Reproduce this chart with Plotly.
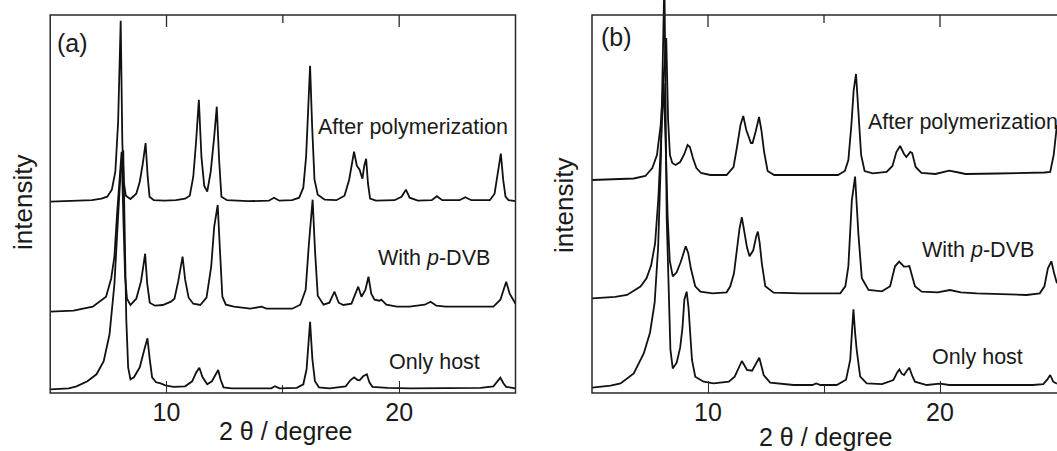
import plotly.graph_objects as go

# ---------------- data (2theta in degrees, intensity in arbitrary units above each baseline) -------------
a_after_theta = [5.0, 6.0, 6.8, 7.2, 7.45, 7.65, 7.8, 7.92, 8.03, 8.1, 8.16, 8.25, 8.45, 8.7, 8.85, 8.98, 9.1,
                 9.19, 9.27, 9.45, 9.9, 10.4, 10.8, 11.0, 11.15, 11.27, 11.39, 11.5, 11.62, 11.75, 11.9, 12.05,
                 12.16, 12.26, 12.36, 12.6, 13.5, 14.4, 14.62, 14.85, 15.4, 15.7, 15.88, 16.0, 16.1, 16.17, 16.26,
                 16.36, 16.5, 16.8, 17.3, 17.65, 17.85, 17.98, 18.06, 18.18, 18.3, 18.42, 18.5, 18.58, 18.66,
                 18.75, 19.0, 19.8, 20.1, 20.29, 20.45, 20.8, 21.4, 21.62, 21.85, 22.6, 22.84, 23.1, 23.9, 24.1,
                 24.25, 24.37, 24.47, 24.57, 24.7, 25.0]
a_after_counts = [0, 0.5, 1.5, 3, 5, 12, 30, 80, 181, 60, 20, 6, 2.7, 8, 20, 38, 58.7,
                  25, 5, 1.5, 1, 1.5, 3, 6, 25, 60, 102, 45, 16, 10, 30, 65,
                  95, 42, 5, 1.5, 0.5, 1, 4, 1, 1.5, 4, 14, 45, 100, 136, 75,
                  22, 7, 2, 1.5, 6, 22, 42, 50, 36, 32, 23, 36, 43, 18,
                  3, 1, 1.5, 5, 12, 4, 1, 1.5, 5.5, 1.5, 1.5, 4.4, 1.5, 1.5, 8,
                  30, 48, 22, 5, 1.5, 0.5]

a_dvb_theta = [5.0, 6.0, 6.83, 7.4, 7.62, 7.76, 7.88, 8.0, 8.07, 8.15, 8.22, 8.3, 8.45, 8.7, 8.9, 9.0, 9.08,
               9.17, 9.28, 9.5, 9.84, 10.19, 10.34, 10.5, 10.6, 10.69, 10.8, 10.95, 11.15, 11.45, 11.72, 11.92,
               12.05, 12.2, 12.3, 12.4, 12.55, 12.9, 13.6, 14.08, 14.3, 15.4, 15.75, 15.98, 16.12, 16.28, 16.38,
               16.5, 16.75, 17.0, 17.22, 17.4, 17.6, 17.95, 18.12, 18.24, 18.38, 18.55, 18.68, 18.8, 18.94,
               19.15, 19.23, 19.45, 19.9, 20.45, 21.1, 21.35, 21.6, 22.0, 23.5, 24.05, 24.35, 24.5, 24.6,
               24.75, 25.0]
a_dvb_counts = [0, 1, 5, 15, 33, 55, 100, 140, 160, 90, 35, 13, 6.7, 13, 30, 45, 58,
                28, 9, 6, 6.7, 10, 13, 30, 45, 55, 32, 14, 8, 6.7, 14, 45,
                85, 106.7, 60, 15, 7, 5, 3, 5, 3, 3, 7, 22, 68, 112, 62,
                16, 7, 9, 20, 9, 6.7, 8, 18, 25, 15, 22, 35, 18, 12,
                11, 12, 7, 5, 5, 7, 10, 6, 5, 5, 5, 12, 22, 30,
                18, 8]

a_host_theta = [5.0, 5.8, 6.13, 6.6, 6.99, 7.3, 7.55, 7.76, 7.9, 8.02, 8.14, 8.2, 8.27, 8.35, 8.45, 8.6, 8.85,
                9.05, 9.18, 9.28, 9.38, 9.55, 9.75, 9.95, 10.3, 10.8, 11.1, 11.28, 11.41, 11.55, 11.75, 11.95,
                12.1, 12.22, 12.32, 12.45, 12.8, 13.7, 14.5, 14.66, 14.85, 15.6, 15.88, 16.02, 16.1, 16.17,
                16.27, 16.38, 16.55, 17.0, 17.7, 17.9, 18.06, 18.2, 18.3, 18.45, 18.61, 18.72, 18.85, 19.5,
                20.5, 22.0, 23.5, 24.05, 24.2, 24.35, 24.48, 24.6, 25.0]
a_host_counts = [0, 1, 3, 8, 15, 28, 55, 105, 165, 215, 239, 150, 70, 22, 10, 12, 22,
                 40, 51, 30, 12, 7, 6, 4, 2.5, 3, 8, 17, 21.6, 12, 5, 8,
                 15, 19.3, 10, 2, 1, 1, 1, 3, 1, 1.5, 5, 20, 46, 67.6,
                 30, 8, 2, 1, 3, 9, 12, 9.5, 9, 13, 15, 7, 2.5, 1.5,
                 1, 1, 1.5, 3, 7, 11.6, 6, 2.5, 1]

b_after_theta = [5.0, 6.0, 6.8, 7.3, 7.6, 7.8, 7.96, 8.08, 8.2, 8.28, 8.36, 8.46, 8.6, 8.8, 8.98, 9.12, 9.22,
                 9.35, 9.5, 9.7, 10.1, 10.8, 11.1, 11.25, 11.4, 11.52, 11.65, 11.85, 11.92, 12.05, 12.2, 12.3,
                 12.42, 12.57, 12.85, 14.0, 15.6, 15.9, 16.05, 16.18, 16.28, 16.38, 16.48, 16.6, 16.75, 17.1,
                 17.7, 17.95, 18.12, 18.28, 18.45, 18.55, 18.72, 18.8, 18.95, 19.2, 19.8, 20.1, 20.4, 20.8,
                 21.1, 22.5, 24.0, 24.5, 24.75, 24.9, 25.04]
b_after_counts = [0, 0.5, 1.5, 4, 12, 25, 55, 100, 142, 60, 25, 17, 15, 18, 26, 35, 33,
                  22, 12, 7, 5, 5, 13, 33, 55, 64, 50, 37, 37, 48, 63, 50,
                  28, 9, 5, 5, 5, 9, 20, 55, 90, 106, 65, 25, 9, 6.7,
                  8, 14, 28, 34, 26, 23, 28, 27, 13, 7, 6, 8, 9.3, 7.5,
                  6, 6.5, 6.7, 7.5, 8, 25, 55]

b_dvb_theta = [5.0, 6.0, 6.51, 7.09, 7.35, 7.55, 7.72, 7.86, 7.98, 8.09, 8.18, 8.26, 8.35, 8.48, 8.65, 8.82,
               9.04, 9.15, 9.26, 9.45, 9.67, 10.2, 10.8, 10.96, 11.12, 11.25, 11.36, 11.46, 11.58, 11.68, 11.79,
               11.95, 12.08, 12.15, 12.23, 12.32, 12.47, 12.83, 14.0, 15.7, 15.92, 16.05, 16.2, 16.34, 16.48,
               16.63, 16.92, 17.5, 17.85, 18.06, 18.24, 18.45, 18.6, 18.68, 18.8, 18.92, 19.21, 19.9, 20.43,
               20.9, 21.58, 23.0, 23.73, 24.3, 24.5, 24.65, 24.8, 24.92, 25.04]
b_dvb_counts = [0, 1.5, 3.3, 11.7, 20, 33, 55, 100, 160, 215, 150, 82, 38, 22, 26, 36,
                52, 45, 30, 12, 6.7, 5, 6, 12, 25, 48, 70, 81, 65, 51, 42,
                48, 62, 66.7, 55, 35, 12, 5.7, 5, 5, 12, 32, 98, 121.7, 65,
                20, 8.3, 7, 12, 32, 36.7, 31.7, 32, 32.3, 22, 12, 6.7, 6, 8.3,
                6, 5, 4, 3.3, 5, 12, 30, 37, 25, 15]

b_host_theta = [5.0, 5.8, 6.23, 6.8, 7.23, 7.5, 7.7, 7.85, 7.97, 8.12, 8.22, 8.31, 8.38, 8.48, 8.65, 8.8,
                8.9, 8.98, 9.08, 9.16, 9.23, 9.31, 9.45, 9.81, 10.24, 10.9, 11.15, 11.3, 11.46, 11.58, 11.68,
                11.9, 12.08, 12.21, 12.3, 12.4, 12.68, 13.69, 14.5, 14.66, 14.85, 15.55, 15.95, 16.13, 16.2,
                16.27, 16.34, 16.41, 16.56, 16.84, 17.5, 17.99, 18.15, 18.25, 18.35, 18.45, 18.57, 18.68,
                18.8, 18.92, 19.43, 20.0, 20.4, 22.0, 24.0, 24.45, 24.62, 24.75, 24.88, 25.04]
b_host_counts = [0, 2, 4.3, 14.3, 34.3, 55, 85, 140, 230, 410, 170, 88, 38, 19.3, 25, 40,
                 60, 88, 96, 80, 50, 27.7, 11, 6, 4.3, 6, 11, 18, 26.7, 22, 17.7,
                 17, 25, 30, 22, 12.7, 5, 2.7, 2.7, 4.3, 2.7, 2.7, 8, 27.7, 54,
                 78.3, 55, 37.7, 11, 4.3, 3.5, 7.7, 15, 18.3, 14, 12.7, 17, 20,
                 12, 6, 2.7, 4, 2.7, 2.7, 2.7, 3.5, 8, 12.7, 6, 4]

# vertical offsets of the stacked patterns (after polymerization, with p-DVB, only host)
a_offsets = [191.3, 81.3, 3.7]
b_offsets = [213.0, 94.7, 5.3]

series_labels = ["After polymerization", "With <i>p</i>-DVB", "Only host"]
panel_labels = ["(a)", "(b)"]
major_ticks = [10, 20]
top_ticks = [10, 15, 20]
minor_top = [15]
x_title = "2 θ / degree"
y_title = "intensity"
frame_top = 378.0

# ---------------- figure -------------
W, H = 1057, 451
FONT = "Liberation Sans, Arial, Helvetica, sans-serif"
LINE = "#111111"
FRAME = "#2a2a2a"

def px(x):
    return x / W

def py(y):
    return 1 - y / H

fig = go.Figure()

panels = [
    ("x", "y", [(a_after_theta, a_after_counts), (a_dvb_theta, a_dvb_counts), (a_host_theta, a_host_counts)], a_offsets),
    ("x2", "y2", [(b_after_theta, b_after_counts), (b_dvb_theta, b_dvb_counts), (b_host_theta, b_host_counts)], b_offsets),
]
for xa, ya, curves, offs in panels:
    for (tx, cy), off, name in zip(curves, offs, series_labels):
        fig.add_trace(go.Scatter(x=tx, y=[off + c for c in cy], mode="lines", xaxis=xa, yaxis=ya,
                                 line=dict(color=LINE, width=1.8), name=name, showlegend=False,
                                 hoverinfo="skip"))

plot_bottom_px = 396
ydom = [1 - plot_bottom_px / H, 1]
yrange = [-3, 393]
axis_pos = py(393)

# panel a: 5 deg at px 50.2, 25 deg at px 515.5
a_ppd = (515.5 - 50.2) / 20
xa_dom = [px(50.2 - 3), px(515.5 + 3)]
xa_rng = [5 - 3 / a_ppd, 25 + 3 / a_ppd]
# panel b: 5 deg at px 592, 23.2 px per degree, cut by the right edge
b_ppd = 23.2
xb_dom = [px(592 - 3), 1.0]
xb_rng = [5 - 3 / b_ppd, 5 + (W - 592) / b_ppd]

common_x = dict(showgrid=False, zeroline=False, showline=False, ticks="inside", ticklen=12,
                tickwidth=1.3, tickcolor=FRAME, tickmode="array", tickvals=major_ticks,
                ticktext=[str(t) for t in major_ticks],
                tickfont=dict(family=FONT, size=25, color="#1a1a1a"),
                minor=dict(tickmode="array", tickvals=minor_top, ticks="inside", ticklen=8,
                           tickwidth=1.3, tickcolor=FRAME),
                anchor="free", position=axis_pos, ticklabelstandoff=2)
common_y = dict(visible=False, showgrid=False, zeroline=False, range=yrange, domain=ydom, fixedrange=True)

fig.update_layout(
    width=W, height=H, margin=dict(l=0, r=0, t=0, b=0),
    paper_bgcolor="white", plot_bgcolor="white",
    xaxis=dict(domain=xa_dom, range=xa_rng, **common_x),
    yaxis=dict(anchor="x", **common_y),
    xaxis2=dict(domain=xb_dom, range=xb_rng, **common_x),
    yaxis2=dict(anchor="x2", **common_y),
    showlegend=False,
)

shapes = []
# frames
shapes.append(dict(type="rect", xref="x", yref="y", x0=5, x1=25, y0=0, y1=frame_top,
                   line=dict(color=FRAME, width=1.5), layer="above"))
shapes.append(dict(type="rect", xref="x2", yref="y2", x0=5, x1=25.6, y0=0, y1=frame_top,
                   line=dict(color=FRAME, width=1.5), layer="above"))
# top ticks (inside)
for xr, yr in (("x", "y"), ("x2", "y2")):
    for t in top_ticks:
        ln = 8 if t in minor_top else 12
        shapes.append(dict(type="line", xref=xr, yref=yr, x0=t, x1=t, y0=frame_top, y1=frame_top - ln,
                           line=dict(color=FRAME, width=1.3), layer="above"))
fig.update_layout(shapes=shapes)

ann = []
lab_font = dict(family=FONT, size=21.5, color="#1a1a1a")
big_font = dict(family=FONT, size=25, color="#1a1a1a")
# panel a
ann += [
    dict(text=panel_labels[0], x=px(55), y=py(43), xanchor="left", yanchor="middle", font=big_font),
    dict(text=series_labels[0], x=px(510), y=py(127), xanchor="right", yanchor="middle", font=lab_font),
    dict(text=series_labels[1], x=px(492), y=py(258), xanchor="right", yanchor="middle", font=lab_font),
    dict(text=series_labels[2], x=px(482), y=py(362), xanchor="right", yanchor="middle", font=lab_font),
    dict(text=y_title, x=px(23), y=py(203), xanchor="center", yanchor="middle", textangle=-90,
         font=dict(family=FONT, size=26, color="#1a1a1a")),
    dict(text=x_title, x=px(285), y=py(431), xanchor="center", yanchor="middle", font=big_font),
]
# panel b
ann += [
    dict(text=panel_labels[1], x=px(599), y=py(37), xanchor="left", yanchor="middle", font=big_font),
    dict(text=series_labels[0], x=px(866), y=py(122), xanchor="left", yanchor="middle", font=lab_font),
    dict(text=series_labels[1], x=px(920), y=py(250), xanchor="left", yanchor="middle", font=lab_font),
    dict(text=series_labels[2], x=px(930), y=py(357), xanchor="left", yanchor="middle", font=lab_font),
    dict(text=y_title, x=px(564), y=py(206), xanchor="center", yanchor="middle", textangle=-90,
         font=dict(family=FONT, size=26, color="#1a1a1a")),
    dict(text=x_title, x=px(825), y=py(437), xanchor="center", yanchor="middle", font=big_font),
]
for a in ann:
    a.update(xref="paper", yref="paper", showarrow=False)
fig.update_layout(annotations=ann)

fig.write_html("out.html", config={"displayModeBar": False},
               post_script="document.body.style.margin='0';document.body.style.overflow='hidden';")
